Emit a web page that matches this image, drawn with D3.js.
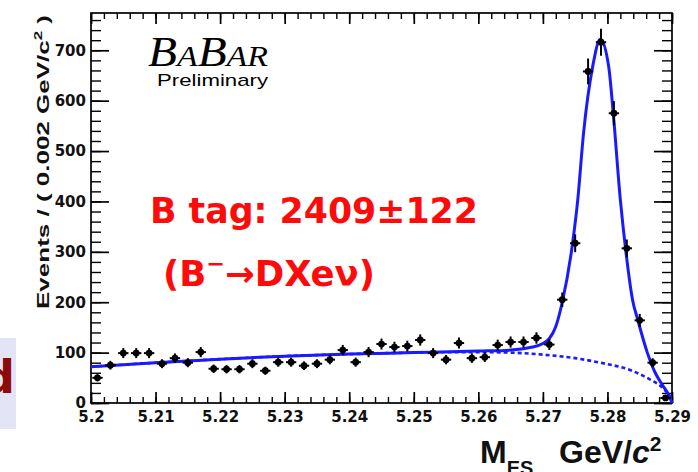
<!DOCTYPE html>
<html>
<head>
<meta charset="utf-8">
<script src="https://cdn.jsdelivr.net/npm/d3@7"></script>
<style>
  body { margin: 0; background: #fff; }
  svg text { font-family: "Liberation Sans", Arial, sans-serif; }
</style>
</head>
<body>
<svg id="chart" width="698" height="472"></svg>
<script>
// mES histogram, bins of 0.002 GeV/c^2
var binCenters = [5.201, 5.203, 5.205, 5.207, 5.209, 5.211, 5.213, 5.215, 5.217, 5.219,
                  5.221, 5.223, 5.225, 5.227, 5.229, 5.231, 5.233, 5.235, 5.237, 5.239,
                  5.241, 5.243, 5.245, 5.247, 5.249, 5.251, 5.253, 5.255, 5.257, 5.259,
                  5.261, 5.263, 5.265, 5.267, 5.269, 5.271, 5.273, 5.275, 5.277, 5.279,
                  5.281, 5.283, 5.285, 5.287, 5.289];
var binCounts = [50, 75, 99, 99, 99, 78, 89, 80, 101, 68,
                 67, 67, 78, 64, 81, 81, 74, 78, 86, 105,
                 81, 101, 117, 111, 113, 125, 99, 86, 119, 89,
                 91, 115, 121, 121, 129, 116, 205, 317, 658, 716,
                 575, 307, 164, 80, 10];

// fit curves (total = signal + background, background = ARGUS)
var totalFitX = [5.200, 5.210, 5.220, 5.230, 5.240, 5.250, 5.260, 5.265, 5.268, 5.270,
                 5.2710, 5.2720, 5.2730, 5.2746, 5.2754, 5.2763, 5.2777, 5.2789, 5.2802, 5.2809,
                 5.2820, 5.2828, 5.2839, 5.2847, 5.2862, 5.2874, 5.2885, 5.2895, 5.2900];
var totalFitY = [72, 80, 87, 93, 97, 100, 103, 105, 110, 118,
                 128, 152, 200, 317, 403, 536, 667, 722, 667, 575,
                 403, 307, 204, 165, 99, 60, 36, 16, 0];
var bkgFitX = [5.200, 5.210, 5.220, 5.230, 5.240, 5.250, 5.260, 5.265, 5.270, 5.275,
               5.2789, 5.2836, 5.2867, 5.2880, 5.2890, 5.2896, 5.2900];
var bkgFitY = [72, 80, 87, 93, 97, 100, 101, 100, 96, 89,
               80, 65, 46, 36, 24, 15, 0];

var xMajorTicks = [5.20, 5.21, 5.22, 5.23, 5.24, 5.25, 5.26, 5.27, 5.28, 5.29];
var xTickLabels = ["5.2", "5.21", "5.22", "5.23", "5.24", "5.25", "5.26", "5.27", "5.28", "5.29"];
var yMajorTicks = [0, 100, 200, 300, 400, 500, 600, 700];
var yTickLabels = ["0", "100", "200", "300", "400", "500", "600", "700"];

var svg = d3.select("#chart");
var margin = { left: 91, right: 672, top: 13, bottom: 403 };

var x = d3.scaleLinear().domain([5.2, 5.29]).range([margin.left, margin.right]);
var y = d3.scaleLinear().domain([0, 774]).range([margin.bottom, margin.top]);

// minor tick positions
var xMinor = d3.range(0, 46).map(function(i) { return 5.2 + i * 0.002; });
var yMinor = d3.range(0, 39).map(function(i) { return i * 20; });

// little box on the left edge (cut off slide text)
svg.append("rect")
  .attr("x", 0).attr("y", 338).attr("width", 16).attr("height", 91)
  .attr("fill", "#e4e4f7");
svg.append("text")
  .attr("x", 15).attr("y", 393)
  .attr("text-anchor", "end")
  .style("font-family", "'DejaVu Sans', sans-serif")
  .style("font-weight", "bold")
  .style("font-size", "46px")
  .attr("fill", "#8b0a0a")
  .text("d");

// axes, ROOT style: ticks inside on all four sides
function drawAxis(axis, transform, major) {
  var g = svg.append("g").attr("transform", transform).call(axis);
  g.select(".domain").remove();
  g.selectAll(".tick line").attr("stroke", "#000").attr("stroke-width", major ? 1.7 : 1.4);
  return g;
}

drawAxis(d3.axisBottom(x).tickValues(xMinor).tickSize(-6).tickFormat(""), "translate(0," + margin.bottom + ")", false);
drawAxis(d3.axisTop(x).tickValues(xMinor).tickSize(-6).tickFormat(""), "translate(0," + margin.top + ")", false);
drawAxis(d3.axisLeft(y).tickValues(yMinor).tickSize(-10).tickFormat(""), "translate(" + margin.left + ",0)", false);
drawAxis(d3.axisRight(y).tickValues(yMinor).tickSize(-10).tickFormat(""), "translate(" + margin.right + ",0)", false);

var xAxisG = drawAxis(d3.axisBottom(x).tickValues(xMajorTicks).tickSize(-11).tickPadding(8)
    .tickFormat(function(d, i) { return xTickLabels[i]; }),
  "translate(0," + margin.bottom + ")", true);
drawAxis(d3.axisTop(x).tickValues(xMajorTicks).tickSize(-11).tickFormat(""), "translate(0," + margin.top + ")", true);
var yAxisG = drawAxis(d3.axisLeft(y).tickValues(yMajorTicks).tickSize(-18).tickPadding(5)
    .tickFormat(function(d, i) { return yTickLabels[i]; }),
  "translate(" + margin.left + ",0)", true);
drawAxis(d3.axisRight(y).tickValues(yMajorTicks).tickSize(-18).tickFormat(""), "translate(" + margin.right + ",0)", true);

[xAxisG, yAxisG].forEach(function(g) {
  g.selectAll(".tick text")
    .attr("fill", "#111")
    .style("font-size", "15px")
    .style("font-weight", "bold")
    .style("font-family", "'DejaVu Sans', sans-serif");
});

// frame
svg.append("rect")
  .attr("x", margin.left).attr("y", margin.top)
  .attr("width", margin.right - margin.left).attr("height", margin.bottom - margin.top)
  .attr("fill", "none").attr("stroke", "#000").attr("stroke-width", 1.7);

// fit curves
var lineGen = d3.line()
  .x(function(d) { return x(d[0]); })
  .y(function(d) { return y(d[1]); })
  .curve(d3.curveMonotoneX);

svg.append("path")
  .datum(d3.zip(bkgFitX, bkgFitY))
  .attr("d", lineGen)
  .attr("fill", "none")
  .attr("stroke", "#1a1aff")
  .attr("stroke-width", 2.6)
  .attr("stroke-dasharray", "4,3");

svg.append("path")
  .datum(d3.zip(totalFitX, totalFitY))
  .attr("d", lineGen)
  .attr("fill", "none")
  .attr("stroke", "#1a1aff")
  .attr("stroke-width", 3);

// data points with errors
var points = svg.append("g").selectAll("g")
  .data(d3.zip(binCenters, binCounts))
  .join("g");
points.append("line")
  .attr("x1", function(d) { return x(d[0] - 0.0008); })
  .attr("x2", function(d) { return x(d[0] + 0.0008); })
  .attr("y1", function(d) { return y(d[1]); })
  .attr("y2", function(d) { return y(d[1]); })
  .attr("stroke", "#000").attr("stroke-width", 2);
points.append("line")
  .attr("x1", function(d) { return x(d[0]); })
  .attr("x2", function(d) { return x(d[0]); })
  .attr("y1", function(d) { return y(d[1] - Math.sqrt(d[1])); })
  .attr("y2", function(d) { return y(d[1] + Math.sqrt(d[1])); })
  .attr("stroke", "#000").attr("stroke-width", 2);
points.append("circle")
  .attr("cx", function(d) { return x(d[0]); })
  .attr("cy", function(d) { return y(d[1]); })
  .attr("r", 3.4)
  .attr("fill", "#000");

// axis titles
var yTitle = svg.append("text")
  .attr("transform", "translate(49,15) rotate(-90)")
  .attr("text-anchor", "end")
  .attr("textLength", 294)
  .attr("lengthAdjust", "spacingAndGlyphs")
  .attr("fill", "#111")
  .style("font-size", "17px")
  .style("font-weight", "bold");
yTitle.append("tspan").text("Events / ( 0.002 GeV/c");
yTitle.append("tspan").attr("dy", -7).style("font-size", "11px").text("2");
yTitle.append("tspan").attr("dy", 7).text(" )");

var xTitle = svg.append("text")
  .attr("x", 480).attr("y", 463)
  .attr("fill", "#111")
  .style("font-size", "32px")
  .style("font-weight", "bold");
xTitle.append("tspan").text("M");
xTitle.append("tspan").attr("dy", 12).style("font-size", "20px").text("ES");
xTitle.append("tspan").attr("x", 559).attr("dy", -12).text("GeV/");
xTitle.append("tspan").style("font-style", "italic").text("c");
xTitle.append("tspan").attr("dy", -12).style("font-size", "21px").text("2");

// BaBar logo
var logo = svg.append("text")
  .attr("x", 148).attr("y", 66)
  .attr("textLength", 120)
  .attr("lengthAdjust", "spacingAndGlyphs")
  .style("font-family", "'Liberation Serif', 'Times New Roman', serif")
  .style("font-style", "italic")
  .attr("fill", "#000");
logo.append("tspan").style("font-size", "42px").text("B");
logo.append("tspan").style("font-size", "30px").text("A");
logo.append("tspan").style("font-size", "42px").text("B");
logo.append("tspan").style("font-size", "30px").text("AR");

svg.append("text")
  .attr("x", 157).attr("y", 86)
  .attr("textLength", 111)
  .attr("lengthAdjust", "spacingAndGlyphs")
  .style("font-size", "17px")
  .attr("fill", "#000")
  .text("Preliminary");

// red annotation
svg.append("text")
  .attr("x", 150).attr("y", 223)
  .attr("textLength", 328)
  .attr("lengthAdjust", "spacingAndGlyphs")
  .style("font-family", "'DejaVu Sans', sans-serif")
  .style("font-weight", "bold")
  .style("font-size", "35px")
  .attr("fill", "#ff0a0a")
  .text("B tag: 2409\u00b1122");

var decay = svg.append("text")
  .attr("x", 163).attr("y", 286)
  .attr("textLength", 212)
  .attr("lengthAdjust", "spacingAndGlyphs")
  .style("font-family", "'DejaVu Sans', sans-serif")
  .style("font-weight", "bold")
  .style("font-size", "35px")
  .attr("fill", "#ff0a0a");
decay.append("tspan").text("(B");
decay.append("tspan").attr("dy", -15).style("font-size", "22px").text("\u2212");
decay.append("tspan").attr("dy", 15).text("\u2192DXe\u03bd)");
</script>
</body>
</html>
